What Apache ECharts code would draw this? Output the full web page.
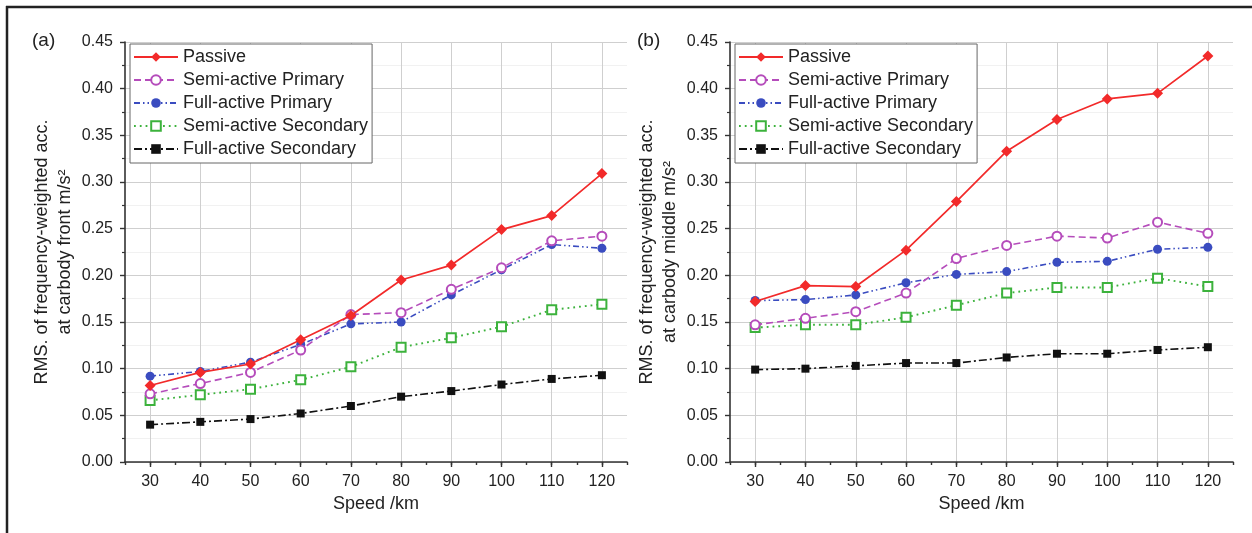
<!DOCTYPE html>
<html><head><meta charset="utf-8">
<script src="https://cdn.jsdelivr.net/npm/echarts@6/dist/echarts.min.js"></script>
<style>html,body{margin:0;padding:0;background:#fff}#c{width:1252px;height:533px}</style>
</head><body><div id="c"></div>
<script>
const speeds = [30, 40, 50, 60, 70, 80, 90, 100, 110, 120];
const speedLabels = ['30', '40', '50', '60', '70', '80', '90', '100', '110', '120'];
const seriesNames = ['Passive', 'Semi-active Primary', 'Full-active Primary', 'Semi-active Secondary', 'Full-active Secondary'];

// Panel (a): carbody front
const frontPassive      = [0.082, 0.096, 0.105, 0.131, 0.157, 0.195, 0.211, 0.249, 0.264, 0.309];
const frontSemiPrimary  = [0.073, 0.084, 0.096, 0.120, 0.158, 0.160, 0.185, 0.208, 0.237, 0.242];
const frontFullPrimary  = [0.092, 0.097, 0.107, 0.126, 0.148, 0.150, 0.179, 0.206, 0.233, 0.229];
const frontSemiSecond   = [0.066, 0.072, 0.078, 0.088, 0.102, 0.123, 0.133, 0.145, 0.163, 0.169];
const frontFullSecond   = [0.040, 0.043, 0.046, 0.052, 0.060, 0.070, 0.076, 0.083, 0.089, 0.093];

// Panel (b): carbody middle
const middlePassive     = [0.172, 0.189, 0.188, 0.227, 0.279, 0.333, 0.367, 0.389, 0.395, 0.435];
const middleSemiPrimary = [0.147, 0.154, 0.161, 0.181, 0.218, 0.232, 0.242, 0.240, 0.257, 0.245];
const middleFullPrimary = [0.173, 0.174, 0.179, 0.192, 0.201, 0.204, 0.214, 0.215, 0.228, 0.230];
const middleSemiSecond  = [0.144, 0.147, 0.147, 0.155, 0.168, 0.181, 0.187, 0.187, 0.197, 0.188];
const middleFullSecond  = [0.099, 0.100, 0.103, 0.106, 0.106, 0.112, 0.116, 0.116, 0.120, 0.123];

const panelLabels = ['(a)', '(b)'];
const xName = 'Speed /km';
const yNames = ['RMS. of frequency-weighted acc.\nat carbody front m/s\u00B2',
                'RMS. of frequency-weighted acc.\nat carbody middle m/s\u00B2'];

const panels = [
  [frontPassive, frontSemiPrimary, frontFullPrimary, frontSemiSecond, frontFullSecond],
  [middlePassive, middleSemiPrimary, middleFullPrimary, middleSemiSecond, middleFullSecond]
];

const FONT = "'Liberation Sans', Arial, Helvetica, sans-serif";
const TXT = '#222';
const styles = [
  { color: '#f22a2a', symbol: 'diamond',     size: 11, type: 'solid',               width: 1.7 },
  { color: '#b54cbb', symbol: 'emptyCircle', size: 9,  type: [7, 4],                width: 1.6 },
  { color: '#3a4cc0', symbol: 'circle',      size: 9,  type: [6, 3, 1.5, 3, 1.5, 3], width: 1.6 },
  { color: '#3cb23c', symbol: 'emptyRect',   size: 9,  type: [1.8, 4],              width: 1.9 },
  { color: '#111111', symbol: 'rect',        size: 8,  type: [8, 3, 2, 3],          width: 1.6 }
];

const grids = [
  { left: 125, top: 42, width: 502, height: 420 },
  { left: 730, top: 42, width: 503, height: 420 }
];

const xAxes = [], yAxes = [], series = [], legends = [];
grids.forEach((g, gi) => {
  // value axis: minor ticks + vertical grid lines, carries the data
  xAxes.push({
    type: 'value', gridIndex: gi, position: 'bottom', min: 25, max: 125, interval: 5,
    axisLine: { show: true, lineStyle: { color: '#333', width: 1.6 } },
    axisTick: { show: true, length: 3, lineStyle: { color: '#333', width: 1.4 } },
    axisLabel: { show: false },
    splitLine: { show: true, showMinLine: true, showMaxLine: true,
                 lineStyle: { color: ['rgba(0,0,0,0)', '#cfcfcf'], width: 1 } }
  });
  // category axis: major ticks + labels
  xAxes.push({
    type: 'category', gridIndex: gi, position: 'bottom', data: speedLabels, boundaryGap: true,
    axisLine: { show: false },
    axisTick: { show: true, alignWithLabel: true, length: 5, lineStyle: { color: '#333', width: 1.4 } },
    axisLabel: { fontSize: 16, color: TXT, fontFamily: FONT, margin: 12 },
    splitLine: { show: false },
    name: xName, nameLocation: 'middle', nameGap: 28,
    nameTextStyle: { fontSize: 18, color: TXT, fontFamily: FONT }
  });
  yAxes.push({
    type: 'value', gridIndex: gi, min: 0, max: 0.45, interval: 0.05,
    axisLine: { show: true, lineStyle: { color: '#333', width: 1.6 } },
    axisTick: { show: true, length: 5, lineStyle: { color: '#333', width: 1.4 } },
    minorTick: { show: true, splitNumber: 2, length: 3, lineStyle: { color: '#333', width: 1.2 } },
    axisLabel: { fontSize: 16, color: TXT, fontFamily: FONT, margin: 12, formatter: v => v.toFixed(2) },
    splitLine: { show: true, lineStyle: { color: '#cfcfcf', width: 1 } },
    minorSplitLine: { show: true, lineStyle: { color: '#f1f1f1', width: 1 } },
    name: yNames[gi], nameLocation: 'middle', nameRotate: 90, nameGap: 48,
    nameTextStyle: { fontSize: 18, color: TXT, fontFamily: FONT, lineHeight: 23, align: 'center' }
  });
  panels[gi].forEach((vals, si) => {
    const st = styles[si];
    series.push({
      type: 'line', name: seriesNames[si], xAxisIndex: gi * 2, yAxisIndex: gi,
      data: speeds.map((s, k) => [s, vals[k]]),
      symbol: st.symbol, symbolSize: st.size, showAllSymbol: true,
      lineStyle: { color: st.color, width: st.width, type: st.type },
      itemStyle: { color: st.color, borderWidth: 1.3 },
      emphasis: { disabled: true }, z: 3 + (5 - si)
    });
  });
  legends.push({
    orient: 'vertical', left: g.left + 5, top: 44,
    data: seriesNames,
    padding: [3, 4, 4, 3], itemWidth: 44, itemHeight: 12, itemGap: 3,
    borderColor: '#666', borderWidth: 1, backgroundColor: '#fff',
    textStyle: { fontSize: 18, color: TXT, fontFamily: FONT, lineHeight: 20 },
    selectedMode: false
  });
});

const chart = echarts.init(document.getElementById('c'), null, { renderer: 'canvas' });
chart.setOption({
  animation: false,
  backgroundColor: '#fff',
  grid: grids,
  xAxis: xAxes,
  yAxis: yAxes,
  legend: legends,
  series: series,
  graphic: [
    { type: 'line', shape: { x1: 6, y1: 7, x2: 1260, y2: 7 }, style: { stroke: '#222', lineWidth: 2.5 } },
    { type: 'line', shape: { x1: 7, y1: 6, x2: 7, y2: 540 }, style: { stroke: '#222', lineWidth: 2.5 } },
    { type: 'text', left: 32, top: 31, style: { text: panelLabels[0], fontSize: 19, fill: TXT, fontFamily: FONT } },
    { type: 'text', left: 637, top: 31, style: { text: panelLabels[1], fontSize: 19, fill: TXT, fontFamily: FONT } }
  ]
});
</script></body></html>
